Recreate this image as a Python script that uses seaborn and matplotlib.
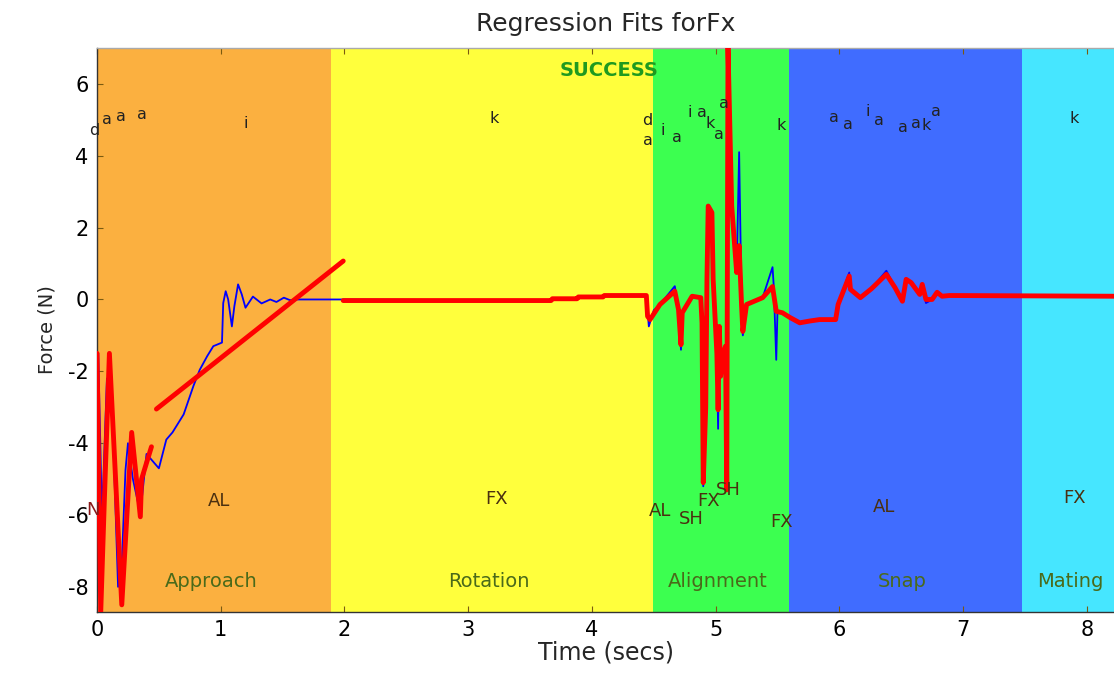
import numpy as np
import pandas as pd
import matplotlib
matplotlib.use("Agg")
import matplotlib.pyplot as plt
import seaborn as sns

sns.set_style("white")
plt.rcParams['font.family'] = ['DejaVu Sans']
plt.rcParams['axes.unicode_minus'] = False

# ---- phases ----
phase_names = ["Approach", "Rotation", "Alignment", "Snap", "Mating"]
phase_bounds = [0.0, 1.89, 4.49, 5.59, 7.48, 8.22]
phase_colors = ["#fbb040", "#ffff3c", "#3cff50", "#406cff", "#46e6ff"]
phase_label_t = [0.92, 3.17, 5.02, 6.51, 7.87]

# ---- raw force signal (blue) ----
blue_t = [0.0, 0.01, 0.04, 0.08, 0.12, 0.13, 0.17, 0.20, 0.23, 0.25, 0.29, 0.35, 0.40,
          0.50, 0.56, 0.61, 0.70, 0.78, 0.83, 0.89, 0.94, 1.01, 1.02, 1.04, 1.06, 1.09,
          1.11, 1.14, 1.17, 1.20, 1.26, 1.33, 1.40, 1.45, 1.51, 1.56, 1.60, 2.00,
          3.67, 3.68, 3.88, 3.89, 4.09, 4.10, 4.44, 4.46, 4.50, 4.55, 4.67, 4.70, 4.72,
          4.73, 4.81, 4.88, 4.89, 4.90, 4.92, 4.93, 4.94, 4.97, 4.98, 5.01, 5.02, 5.03,
          5.04, 5.06, 5.08, 5.09, 5.10, 5.13, 5.15, 5.17, 5.19, 5.21, 5.22, 5.25, 5.38,
          5.46, 5.47, 5.49, 5.50, 5.54, 5.60, 5.68, 5.76, 5.84, 5.97, 5.99, 6.08, 6.09,
          6.17, 6.26, 6.38, 6.45, 6.51, 6.54, 6.58, 6.65, 6.67, 6.70, 6.75, 6.79, 6.83,
          6.89, 8.22]
blue_f = [-1.5, -1.49, -6.1, -2.2, -2.7, -3.8, -8.0, -7.35, -4.75, -4.0, -5.0, -5.95, -4.3,
          -4.7, -3.9, -3.7, -3.2, -2.4, -1.96, -1.58, -1.3, -1.2, -0.1, 0.23, 0.0, -0.75,
          -0.19, 0.42, 0.14, -0.23, 0.08, -0.11, 0.0, -0.07, 0.05, -0.02, 0.0, 0.0,
          -0.03, 0.02, 0.02, 0.07, 0.07, 0.11, 0.11, -0.75, -0.3, -0.14, 0.37, -0.28, -1.4,
          -0.37, 0.09, 0.05, -0.65, -5.2, -3.0, 0.56, 2.6, 2.42, 0.56, -1.5, -3.6, -0.75,
          -2.14, -1.5, -1.3, -5.2, 7.0, 2.6, 1.67, 0.75, 4.1, -0.19, -1.0, -0.14, 0.05,
          0.9, 0.36, -1.68, -0.33, -0.37, -0.5, -0.65, -0.6, -0.56, -0.56, -0.14, 0.75, 0.28,
          0.05, 0.3, 0.8, 0.33, -0.05, 0.56, 0.47, 0.14, 0.42, -0.1, 0.0, 0.2, 0.09,
          0.11, 0.11]

# ---- regression fits (red), piecewise segments ----
fit1_t = [0.0, 0.03, 0.06, 0.10, 0.20, 0.28, 0.35, 0.36, 0.44]
fit1_f = [-1.5, -8.7, -5.5, -1.5, -8.5, -3.7, -6.05, -5.0, -4.1]
fit2_t = [0.48, 1.99]
fit2_f = [-3.05, 1.07]
fit3_t = [1.99, 3.67, 3.68, 3.88, 3.89, 4.09, 4.10, 4.44, 4.45, 4.47, 4.55, 4.67, 4.70,
          4.72, 4.73, 4.81, 4.88, 4.89, 4.90, 4.92, 4.93, 4.94, 4.97, 4.98, 5.01, 5.02,
          5.03, 5.04, 5.06, 5.08, 5.09, 5.10, 5.13, 5.15, 5.17, 5.19, 5.21, 5.22, 5.25,
          5.38, 5.46, 5.49, 5.54, 5.60, 5.68, 5.76, 5.84, 5.97, 5.99, 6.08, 6.09, 6.17,
          6.26, 6.38, 6.45, 6.51, 6.54, 6.58, 6.65, 6.67, 6.70, 6.75, 6.79, 6.83, 6.89, 8.22]
fit3_f = [-0.03, -0.03, 0.02, 0.02, 0.07, 0.07, 0.11, 0.11, -0.47, -0.56, -0.14, 0.23, -0.28,
          -1.26, -0.37, 0.09, 0.05, -0.65, -5.1, -3.0, 0.56, 2.6, 2.42, 0.56, -1.5, -3.07,
          -0.75, -2.14, -1.5, -1.3, -5.3, 7.0, 2.6, 1.67, 0.75, 1.5, -0.19, -0.89, -0.14,
          0.05, 0.36, -0.33, -0.37, -0.5, -0.65, -0.6, -0.56, -0.56, -0.14, 0.65, 0.28, 0.05,
          0.3, 0.7, 0.33, -0.05, 0.56, 0.47, 0.14, 0.42, 0.0, 0.0, 0.2, 0.09, 0.11, 0.09]

# ---- primitive labels ----
top_labels = ["d", "a", "a", "a", "i", "k", "d", "a", "i", "a", "i", "a", "k", "a", "a", "k",
              "a", "a", "i", "a", "a", "a", "k", "a", "k"]
top_t = [-0.02, 0.08, 0.19, 0.36, 1.2, 3.21, 4.45, 4.45, 4.57, 4.69, 4.79, 4.89, 4.96, 5.03,
         5.07, 5.53, 5.96, 6.07, 6.23, 6.32, 6.51, 6.62, 6.70, 6.78, 7.9]
top_f = [4.7, 5.02, 5.1, 5.15, 4.9, 5.05, 4.98, 4.42, 4.7, 4.5, 5.2, 5.2, 4.9, 4.6, 5.45,
         4.85, 5.07, 4.86, 5.22, 4.97, 4.8, 4.9, 4.85, 5.22, 5.05]

comp_labels = ["N", "AL", "FX", "AL", "SH", "FX", "SH", "FX", "AL", "FX"]
comp_t = [-0.03, 0.99, 3.23, 4.55, 4.8, 4.94, 5.1, 5.53, 6.36, 7.9]
comp_f = [-5.85, -5.6, -5.55, -5.9, -6.1, -5.6, -5.3, -6.2, -5.78, -5.53]

blue_df = pd.DataFrame({"t": blue_t, "f": blue_f})
red_df = pd.concat([
    pd.DataFrame({"t": fit1_t, "f": fit1_f, "seg": 1}),
    pd.DataFrame({"t": fit2_t, "f": fit2_f, "seg": 2}),
    pd.DataFrame({"t": fit3_t, "f": fit3_f, "seg": 3}),
], ignore_index=True)

fig = plt.figure(figsize=(11.14, 6.75), dpi=100)
ax = fig.add_axes([0.0871, 0.0933, 0.9129, 0.8356])

for i, name in enumerate(phase_names):
    ax.axvspan(phase_bounds[i], phase_bounds[i + 1], color=phase_colors[i], lw=0, zorder=0)
    ax.text(phase_label_t[i], -7.85, name, color="#4a6a1a", fontsize=14,
            ha="center", va="center", zorder=5)

sns.lineplot(data=blue_df, x="t", y="f", color="#0000ff", lw=1.3, sort=False,
             estimator=None, ax=ax, zorder=3)
sns.lineplot(data=red_df, x="t", y="f", units="seg", color="#ff0000", lw=3.5,
             sort=False, estimator=None, ax=ax, zorder=4)

for s, t, f in zip(top_labels, top_t, top_f):
    ax.text(t, f, s, fontsize=11.5, ha="center", va="center", color="#222222", zorder=6,
            clip_on=False)
for s, t, f in zip(comp_labels, comp_t, comp_f):
    ax.text(t, f, s, fontsize=13, ha="center", va="center",
            color="#8b1a1a" if s == "N" else "#4a3010", zorder=6, clip_on=False)

ax.text(4.14, 6.37, "SUCCESS", color="#1f9a1f", fontsize=14, fontweight="bold",
        ha="center", va="center", zorder=6)

ax.set_xlim(0, 8.22)
ax.set_ylim(-8.7, 7.0)
ax.set_xticks(range(0, 9))
ax.set_yticks(range(-8, 7, 2))
ax.tick_params(direction="in", length=4, labelsize=15, colors="black", width=0.8,
               top=True, right=False, bottom=True, left=True, pad=6)
ax.tick_params(axis="both", which="major", color="#7a5a10")
ax.set_xlabel("Time (secs)", fontsize=17, labelpad=0)
ax.set_ylabel("Force (N)", fontsize=14, labelpad=8)
ax.set_title("Regression Fits forFx", fontsize=18, pad=12)
for sp in ["left", "bottom"]:
    ax.spines[sp].set_color("#333333")
    ax.spines[sp].set_linewidth(1.0)
ax.spines["top"].set_color("#aaaaaa")
ax.spines["top"].set_linewidth(1.0)
ax.spines["right"].set_visible(False)

fig.savefig("out.png", dpi=100)
